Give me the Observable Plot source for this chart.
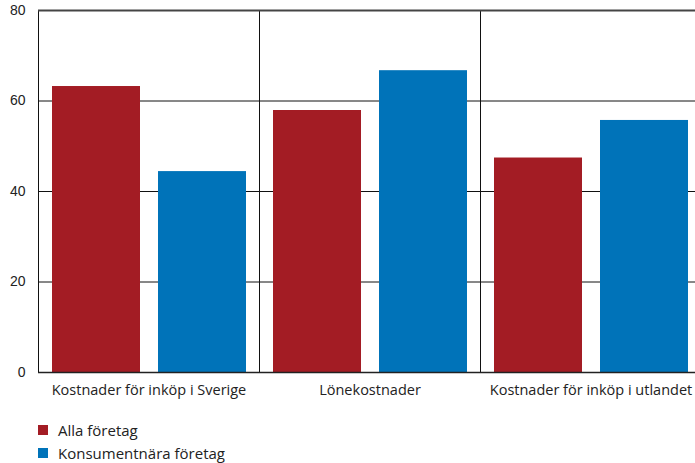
<!DOCTYPE html>
<html>
<head>
<meta charset="utf-8">
<script src="https://cdn.jsdelivr.net/npm/d3@7"></script>
<script src="https://cdn.jsdelivr.net/npm/@observablehq/plot@0.6"></script>
<style>
  html, body { margin: 0; padding: 0; background: #fff; overflow: hidden; }
  #wrap { position: relative; width: 695px; height: 463px; overflow: hidden; }
  #chart svg { max-width: none !important; }
  #legend { position: absolute; left: 38px; top: 418px; font-family: "Open Sans", sans-serif; font-size: 15px; color: #222; }
  .row { display: flex; align-items: center; height: 23px; }
  .sw { width: 10px; height: 10px; margin-right: 10px; }
</style>
</head>
<body>
<div id="wrap"><div id="chart"></div><div id="legend"></div></div>
<script>
const categories = ["Kostnader för inköp i Sverige", "Lönekostnader", "Kostnader för inköp i utlandet"];
const series = ["Alla företag", "Konsumentnära företag"];
const allaForetag = [63.2, 57.9, 47.4];
const konsumentnaraForetag = [44.4, 66.7, 55.7];
const colors = ["#a31c24", "#0073b9"];
const yTicks = [0, 20, 40, 60, 80];

const data = categories.flatMap((c, i) => [
  {category: c, series: series[0], value: allaForetag[i]},
  {category: c, series: series[1], value: konsumentnaraForetag[i]}
]);

const chart = Plot.plot({
  width: 702,
  height: 400,
  marginTop: 10,
  marginLeft: 37,
  marginRight: 0,
  marginBottom: 28,
  style: {fontFamily: "'Open Sans', sans-serif", color: "#222", maxWidth: "none"},
  fx: {domain: categories, padding: 0},
  x: {domain: series, paddingInner: 0.17, paddingOuter: 0.124, axis: null},
  y: {domain: [0, 80]},
  color: {domain: series, range: colors},
  marks: [
    Plot.ruleY([20, 40, 60], {stroke: "#111", strokeWidth: 1}),
    Plot.barY(data, {fx: "category", x: "series", y: "value", fill: "series"}),
    Plot.frame({stroke: "#111", strokeWidth: 1}),
    Plot.ruleY([80], {stroke: "#444", strokeWidth: 2}),
    Plot.ruleY([0], {stroke: "#222", strokeWidth: 1.5}),
    Plot.axisY({ticks: yTicks, tickSize: 0, tickPadding: 13, label: null, fontSize: 14,
      fontFamily: "'Liberation Sans', Arial, sans-serif"}),
    Plot.axisFx({anchor: "bottom", tickSize: 0, tickPadding: 12, label: null, fontSize: 14.5})
  ]
});
chart.style.maxWidth = "none";
document.getElementById("chart").appendChild(chart);

const legend = document.getElementById("legend");
series.forEach((s, i) => {
  const row = document.createElement("div");
  row.className = "row";
  const sw = document.createElement("div");
  sw.className = "sw";
  sw.style.background = colors[i];
  const label = document.createElement("span");
  label.textContent = s;
  row.appendChild(sw);
  row.appendChild(label);
  legend.appendChild(row);
});
</script>
</body>
</html>
